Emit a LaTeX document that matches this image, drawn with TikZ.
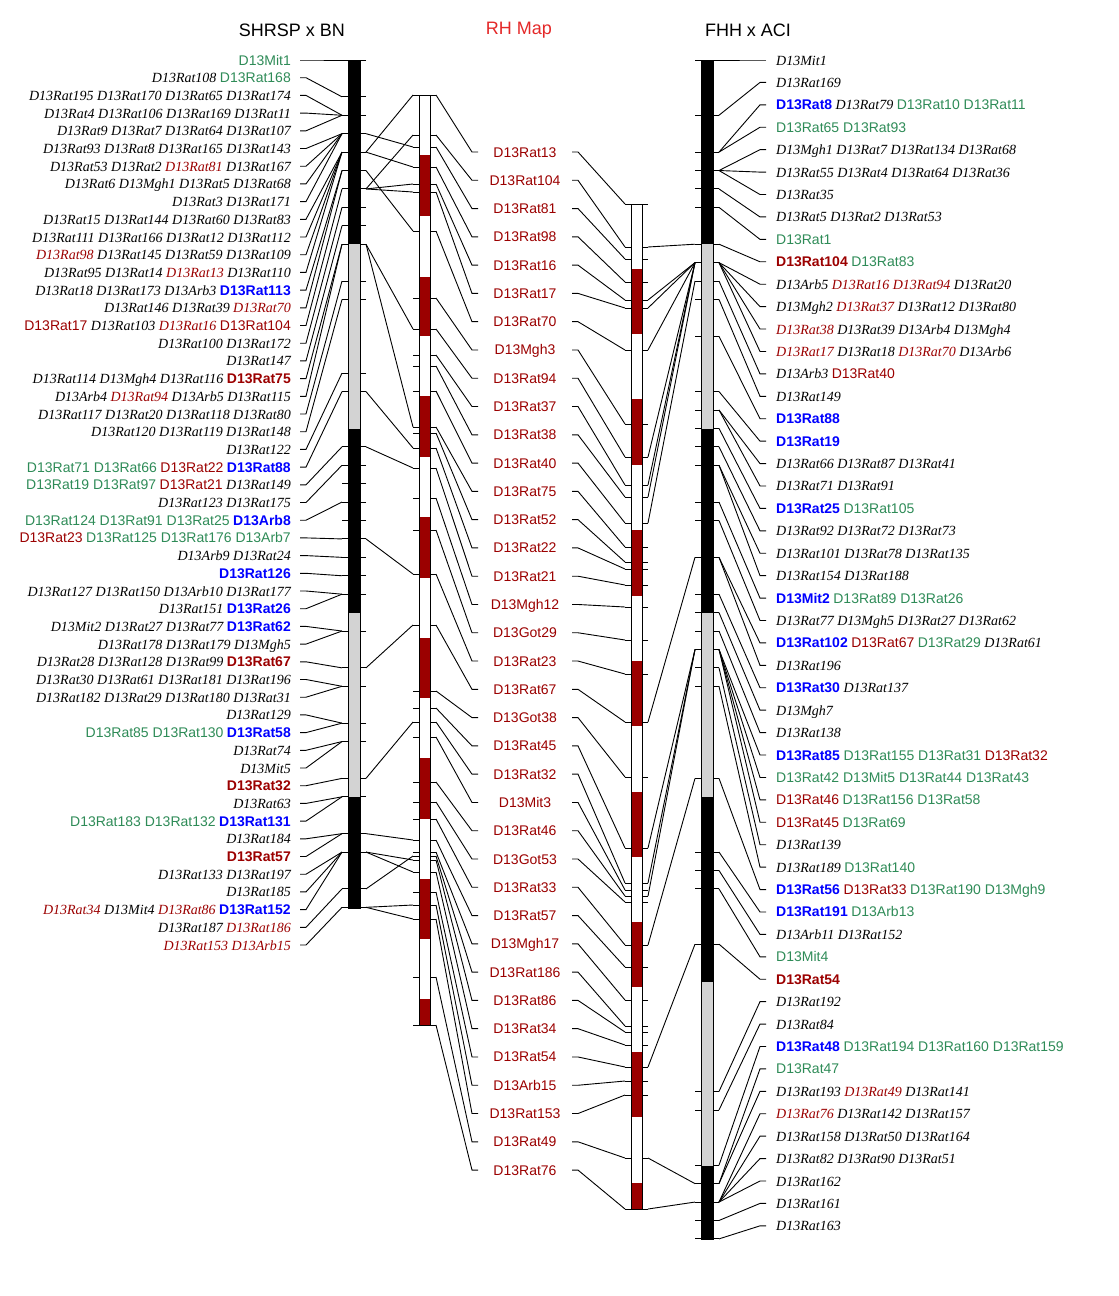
\documentclass[tikz,border=0pt]{standalone}
\usepackage{fontspec}
\setmainfont{Liberation Serif}
\setsansfont{Liberation Sans}
\usepackage{xcolor}
\usepackage{tikz}
\definecolor{mapred}{RGB}{155,0,0}
\definecolor{mapgreen}{RGB}{46,139,87}
\definecolor{mapblue}{RGB}{0,0,255}
\definecolor{bandgray}{RGB}{211,211,211}
\definecolor{titlered}{RGB}{228,40,40}
\newcommand{\mkit}[1]{{\rmfamily\itshape #1}}
\newcommand{\mkgr}[1]{{\sffamily\color{mapgreen}#1}}
\newcommand{\mkrd}[1]{{\rmfamily\itshape\color{mapred}#1}}
\newcommand{\mkRD}[1]{{\sffamily\color{mapred}#1}}
\newcommand{\mkbl}[1]{{\sffamily\bfseries\color{mapblue}#1}}
\newcommand{\mkDB}[1]{{\sffamily\bfseries\color{mapred}#1}}
\tikzset{%
	link/.style      = {draw, line width=0.9pt}, % connector
	marktick/.style  = {draw, line width=0.9pt}, % locus tick
	leftlab/.style   = {anchor=east, inner sep=0pt, text height=10pt, text depth=0pt, font=\fontsize{14}{16}\selectfont},
	rightlab/.style  = {anchor=west, inner sep=0pt, text height=10pt, text depth=0pt, font=\fontsize{14}{16}\selectfont},
	rhlab/.style     = {inner sep=0pt, text height=10pt, text depth=0pt, text=mapred, font=\fontsize{14}{16}\selectfont\sffamily},
	maptitle/.style  = {inner sep=0pt, font=\fontsize{18}{20}\selectfont\sffamily},
	chrom/.style     = {draw, line width=0.9pt},
}

\begin{document}
\begin{tikzpicture}[x=1pt, y=-1pt]
	\useasboundingbox (0,0) rectangle (1119,1296);
	% titles
	\node[maptitle] (tleft) at (292,30) {SHRSP x BN};
	\node[maptitle, text=titlered] (tmid) at (519,30) {RH Map};
	\node[maptitle] (tright) at (748,30) {FHH x ACI};

	% chromosome bars
	\foreach \ya/\yb/\c in {60/244/black, 244/429/bandgray, 429/613/black, 613/797/bandgray, 797/908/black}
		\fill[\c] (348,\ya) rectangle (360,\yb);
	\draw[chrom] (348,60) rectangle (360,908);
	\fill[white] (419,95) rectangle (430,1025);
	\foreach \ya/\yb in {155/216, 277/336, 396/457, 517/578, 638/698, 758/819, 879/939, 999/1025}
		\fill[mapred] (419,\ya) rectangle (430,\yb);
	\draw[chrom] (419,95) rectangle (430,1025);
	\fill[white] (631,204) rectangle (642,1209);
	\foreach \ya/\yb in {269/334, 399/465, 530/596, 661/726, 792/857, 922/987, 1052/1117, 1183/1209}
		\fill[mapred] (631,\ya) rectangle (642,\yb);
	\draw[chrom] (631,204) rectangle (642,1209);
	\foreach \ya/\yb/\c in {60/244/black, 244/429/bandgray, 429/613/black, 613/797/bandgray, 797/982/black, 982/1166/bandgray, 1166/1239/black}
		\fill[\c] (701,\ya) rectangle (713,\yb);
	\draw[chrom] (701,60) rectangle (713,1239);

	% ticks SHRSP x BN
	\foreach \kk in {0,2,3,4,5,6,7,8,9,10,12,13,17,18,21,22,23,24,25,26,27,28,29,31,33,34,36,37,39,40,42,43,45,46} {
		\pgfmathsetmacro\ty{60+18.42*\kk}
		\coordinate (lkL\kk) at (342,\ty);
		\coordinate (lkR\kk) at (366,\ty);
		\draw[marktick] (lkL\kk) -- ++(6,0);
		\draw[marktick] (lkR\kk) -- ++(-6,0);
	}
	% ticks FHH x ACI
	\foreach \kk in {0,3,5,6,7,8,10,11,12,13,15,18,19,20,21,22,24,25,27,29,30,31,32,33,34,39,43,44,45,48,56,57,60,61,62,63,64} {
		\pgfmathsetmacro\ty{60+18.42*\kk}
		\coordinate (rkL\kk) at (695,\ty);
		\coordinate (rkR\kk) at (719,\ty);
		\draw[marktick] (rkL\kk) -- ++(6,0);
		\draw[marktick] (rkR\kk) -- ++(-6,0);
	}

	% SHRSP x BN loci
	\foreach \rw/\kk/\txt in {
		1/0/{\mkgr{D13Mit1}},
		2/2/{\mkit{D13Rat108} \mkgr{D13Rat168}},
		3/3/{\mkit{D13Rat195 D13Rat170 D13Rat65 D13Rat174}},
		4/3/{\mkit{D13Rat4 D13Rat106 D13Rat169 D13Rat11}},
		5/3/{\mkit{D13Rat9 D13Rat7 D13Rat64 D13Rat107}},
		6/4/{\mkit{D13Rat93 D13Rat8 D13Rat165 D13Rat143}},
		7/4/{\mkit{D13Rat53 D13Rat2} \mkrd{D13Rat81} \mkit{D13Rat167}},
		8/4/{\mkit{D13Rat6 D13Mgh1 D13Rat5 D13Rat68}},
		9/4/{\mkit{D13Rat3 D13Rat171}},
		10/5/{\mkit{D13Rat15 D13Rat144 D13Rat60 D13Rat83}},
		11/5/{\mkit{D13Rat111 D13Rat166 D13Rat12 D13Rat112}},
		12/5/{\mkrd{D13Rat98} \mkit{D13Rat145 D13Rat59 D13Rat109}},
		13/5/{\mkit{D13Rat95 D13Rat14} \mkrd{D13Rat13} \mkit{D13Rat110}},
		14/6/{\mkit{D13Rat18 D13Rat173 D13Arb3} \mkbl{D13Rat113}},
		15/6/{\mkit{D13Rat146 D13Rat39} \mkrd{D13Rat70}},
		16/7/{\mkRD{D13Rat17} \mkit{D13Rat103} \mkrd{D13Rat16} \mkRD{D13Rat104}},
		17/8/{\mkit{D13Rat100 D13Rat172}},
		18/9/{\mkit{D13Rat147}},
		19/10/{\mkit{D13Rat114 D13Mgh4 D13Rat116} \mkDB{D13Rat75}},
		20/10/{\mkit{D13Arb4} \mkrd{D13Rat94} \mkit{D13Arb5 D13Rat115}},
		21/12/{\mkit{D13Rat117 D13Rat20 D13Rat118 D13Rat80}},
		22/13/{\mkit{D13Rat120 D13Rat119 D13Rat148}},
		23/17/{\mkit{D13Rat122}},
		24/18/{\mkgr{D13Rat71 D13Rat66} \mkRD{D13Rat22} \mkbl{D13Rat88}},
		25/21/{\mkgr{D13Rat19 D13Rat97} \mkRD{D13Rat21} \mkit{D13Rat149}},
		26/22/{\mkit{D13Rat123 D13Rat175}},
		27/24/{\mkgr{D13Rat124 D13Rat91 D13Rat25} \mkbl{D13Arb8}},
		28/26/{\mkRD{D13Rat23} \mkgr{D13Rat125 D13Rat176 D13Arb7}},
		29/27/{\mkit{D13Arb9 D13Rat24}},
		30/28/{\mkbl{D13Rat126}},
		31/29/{\mkit{D13Rat127 D13Rat150 D13Arb10 D13Rat177}},
		32/29/{\mkit{D13Rat151} \mkbl{D13Rat26}},
		33/31/{\mkit{D13Mit2 D13Rat27 D13Rat77} \mkbl{D13Rat62}},
		34/31/{\mkit{D13Rat178 D13Rat179 D13Mgh5}},
		35/33/{\mkit{D13Rat28 D13Rat128 D13Rat99} \mkDB{D13Rat67}},
		36/34/{\mkit{D13Rat30 D13Rat61 D13Rat181 D13Rat196}},
		37/34/{\mkit{D13Rat182 D13Rat29 D13Rat180 D13Rat31}},
		38/36/{\mkit{D13Rat129}},
		39/36/{\mkgr{D13Rat85 D13Rat130} \mkbl{D13Rat58}},
		40/37/{\mkit{D13Rat74}},
		41/37/{\mkit{D13Mit5}},
		42/39/{\mkDB{D13Rat32}},
		43/40/{\mkit{D13Rat63}},
		44/40/{\mkgr{D13Rat183 D13Rat132} \mkbl{D13Rat131}},
		45/42/{\mkit{D13Rat184}},
		46/42/{\mkDB{D13Rat57}},
		47/43/{\mkit{D13Rat133 D13Rat197}},
		48/43/{\mkit{D13Rat185}},
		49/43/{\mkrd{D13Rat34} \mkit{D13Mit4} \mkrd{D13Rat86} \mkbl{D13Rat152}},
		50/45/{\mkit{D13Rat187} \mkrd{D13Rat186}},
		51/46/{\mkrd{D13Rat153 D13Arb15}}} {
		\pgfmathsetmacro\ly{60+17.7*(\rw-1)}
		\node[leftlab] (L\rw) at (291,\ly) {\txt};
		\coordinate (Ls\rw) at (300,\ly);
		\coordinate (Lt\rw) at (306,\ly);
		\draw[link] (Ls\rw) -- (Lt\rw) -- (lkL\kk);
	}

	% FHH x ACI loci
	\foreach \rw/\kk/\txt in {
		1/0/{\mkit{D13Mit1}},
		2/3/{\mkit{D13Rat169}},
		3/5/{\mkbl{D13Rat8} \mkit{D13Rat79} \mkgr{D13Rat10 D13Rat11}},
		4/5/{\mkgr{D13Rat65 D13Rat93}},
		5/6/{\mkit{D13Mgh1 D13Rat7 D13Rat134 D13Rat68}},
		6/6/{\mkit{D13Rat55 D13Rat4 D13Rat64 D13Rat36}},
		7/6/{\mkit{D13Rat35}},
		8/7/{\mkit{D13Rat5 D13Rat2 D13Rat53}},
		9/8/{\mkgr{D13Rat1}},
		10/10/{\mkDB{D13Rat104} \mkgr{D13Rat83}},
		11/11/{\mkit{D13Arb5} \mkrd{D13Rat16 D13Rat94} \mkit{D13Rat20}},
		12/11/{\mkit{D13Mgh2} \mkrd{D13Rat37} \mkit{D13Rat12 D13Rat80}},
		13/11/{\mkrd{D13Rat38} \mkit{D13Rat39 D13Arb4 D13Mgh4}},
		14/11/{\mkrd{D13Rat17} \mkit{D13Rat18} \mkrd{D13Rat70} \mkit{D13Arb6}},
		15/12/{\mkit{D13Arb3} \mkRD{D13Rat40}},
		16/13/{\mkit{D13Rat149}},
		17/15/{\mkbl{D13Rat88}},
		18/18/{\mkbl{D13Rat19}},
		19/19/{\mkit{D13Rat66 D13Rat87 D13Rat41}},
		20/19/{\mkit{D13Rat71 D13Rat91}},
		21/20/{\mkbl{D13Rat25} \mkgr{D13Rat105}},
		22/21/{\mkit{D13Rat92 D13Rat72 D13Rat73}},
		23/22/{\mkit{D13Rat101 D13Rat78 D13Rat135}},
		24/22/{\mkit{D13Rat154 D13Rat188}},
		25/24/{\mkbl{D13Mit2} \mkgr{D13Rat89 D13Rat26}},
		26/25/{\mkit{D13Rat77 D13Mgh5 D13Rat27 D13Rat62}},
		27/27/{\mkbl{D13Rat102} \mkRD{D13Rat67} \mkgr{D13Rat29} \mkit{D13Rat61}},
		28/27/{\mkit{D13Rat196}},
		29/29/{\mkbl{D13Rat30} \mkit{D13Rat137}},
		30/30/{\mkit{D13Mgh7}},
		31/31/{\mkit{D13Rat138}},
		32/32/{\mkbl{D13Rat85} \mkgr{D13Rat155 D13Rat31} \mkRD{D13Rat32}},
		33/32/{\mkgr{D13Rat42 D13Mit5 D13Rat44 D13Rat43}},
		34/32/{\mkRD{D13Rat46} \mkgr{D13Rat156 D13Rat58}},
		35/32/{\mkRD{D13Rat45} \mkgr{D13Rat69}},
		36/33/{\mkit{D13Rat139}},
		37/34/{\mkit{D13Rat189} \mkgr{D13Rat140}},
		38/39/{\mkbl{D13Rat56} \mkRD{D13Rat33} \mkgr{D13Rat190 D13Mgh9}},
		39/43/{\mkbl{D13Rat191} \mkgr{D13Arb13}},
		40/44/{\mkit{D13Arb11 D13Rat152}},
		41/45/{\mkgr{D13Mit4}},
		42/48/{\mkDB{D13Rat54}},
		43/56/{\mkit{D13Rat192}},
		44/57/{\mkit{D13Rat84}},
		45/60/{\mkbl{D13Rat48} \mkgr{D13Rat194 D13Rat160 D13Rat159}},
		46/61/{\mkgr{D13Rat47}},
		47/61/{\mkit{D13Rat193} \mkrd{D13Rat49} \mkit{D13Rat141}},
		48/62/{\mkrd{D13Rat76} \mkit{D13Rat142 D13Rat157}},
		49/62/{\mkit{D13Rat158 D13Rat50 D13Rat164}},
		50/62/{\mkit{D13Rat82 D13Rat90 D13Rat51}},
		51/62/{\mkit{D13Rat162}},
		52/63/{\mkit{D13Rat161}},
		53/64/{\mkit{D13Rat163}}} {
		\pgfmathsetmacro\ry{60+22.42*(\rw-1)}
		\node[rightlab] (R\rw) at (776,\ry) {\txt};
		\coordinate (Rs\rw) at (766,\ry);
		\coordinate (Rt\rw) at (760,\ry);
		\draw[link] (Rs\rw) -- (Rt\rw) -- (rkR\kk);
	}

	% RH map markers
	\foreach \i/\mname/\pa/\pb in {
		1/D13Rat13/95/204, 2/D13Rat104/135/247, 3/D13Rat81/147/259, 4/D13Rat98/167/282,
		5/D13Rat16/184/300, 6/D13Rat17/192/308, 7/D13Rat70/231/350, 8/D13Mgh3/298/424,
		9/D13Rat94/329/457, 10/D13Rat37/355/485, 11/D13Rat38/366/497, 12/D13Rat40/391/523,
		13/D13Rat75/427/547, 14/D13Rat52/433/562, 15/D13Rat22/448/569, 16/D13Rat21/468/585,
		17/D13Mgh12/498/607, 18/D13Got29/530/640, 19/D13Rat23/574/674, 20/D13Rat67/625/722,
		21/D13Got38/691/777, 22/D13Rat45/708/848, 23/D13Rat32/722/883, 24/D13Mit3/737/890,
		25/D13Rat46/782/896, 26/D13Got53/802/902, 27/D13Rat33/819/945, 28/D13Rat57/840/967,
		29/D13Mgh17/852/1000, 30/D13Rat186/856/1026, 31/D13Rat86/860/1032, 32/D13Rat34/872/1045,
		33/D13Rat54/892/1067, 34/D13Arb15/905/1081, 35/D13Rat153/919/1095, 36/D13Rat49/977/1158,
		37/D13Rat76/1025/1209} {
		\pgfmathsetmacro\my{152+28.28*(\i-1)}
		\node[rhlab] (M\i) at (525,\my) {\mname};
		\coordinate (m1L\i) at (413,\pa);
		\coordinate (m1R\i) at (436,\pa);
		\coordinate (m2L\i) at (625,\pb);
		\coordinate (m2R\i) at (648,\pb);
		\coordinate (Ma\i) at (472,\my);
		\coordinate (Mb\i) at (478,\my);
		\coordinate (Mc\i) at (572,\my);
		\coordinate (Md\i) at (578,\my);
		\draw[marktick] (m1L\i) -- ++(6,0);
		\draw[marktick] (m1R\i) -- ++(-6,0);
		\draw[marktick] (m2L\i) -- ++(6,0);
		\draw[marktick] (m2R\i) -- ++(-6,0);
		\draw[link] (m1R\i) -- (Ma\i) -- (Mb\i);
		\draw[link] (Mc\i) -- (Md\i) -- (m2L\i);
	}

	% shared markers between maps
	\foreach \kk/\i in {5/1, 7/2, 4/3, 5/4, 7/5, 7/6, 6/7, 10/9, 10/13, 18/15, 21/16, 26/19, 33/20,
		39/23, 42/28, 45/30, 43/31, 43/32, 46/34, 46/35}
		\draw[link] (lkR\kk) -- (m1L\i);
	\foreach \kk/\i in {10/2, 11/5, 11/6, 11/7, 11/9, 11/10, 11/11, 12/12, 27/20, 32/22, 32/23,
		32/25, 39/27, 48/33, 61/36, 62/37}
		\draw[link] (m2R\i) -- (rkL\kk);
\end{tikzpicture}
\end{document}
